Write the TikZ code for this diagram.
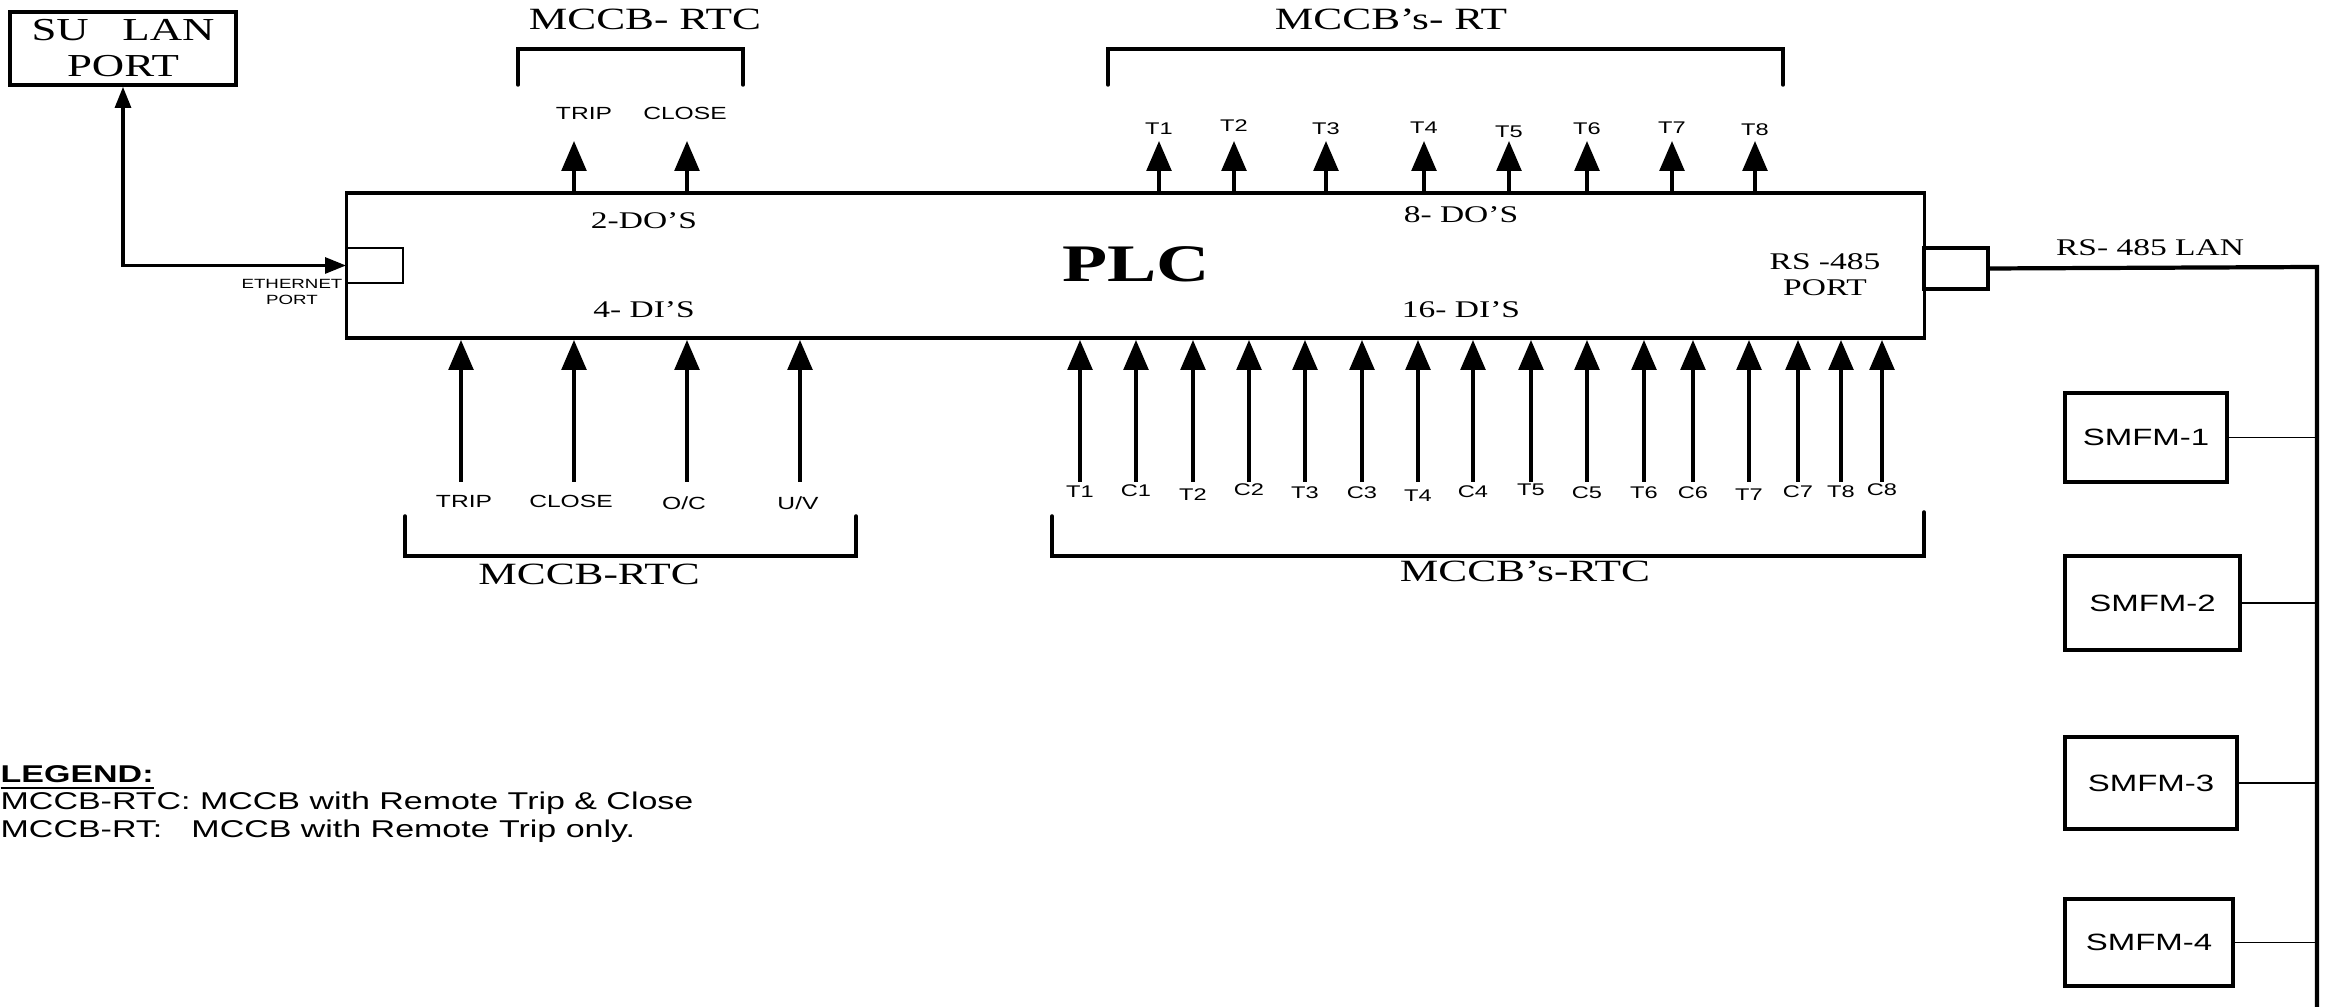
\documentclass[tikz,border=0pt]{standalone}
\usepackage{fontspec}
\setmainfont{Liberation Serif}[FakeStretch=1.4]
\newfontfamily\arialf{Liberation Sans}[FakeStretch=1.4]
\usetikzlibrary{arrows.meta,positioning}

\begin{document}
\begin{tikzpicture}[
  x=0.01cm, y=-0.01cm,
  box/.style={draw, line width=1pt, inner sep=0pt, align=center},
  sig/.style={line width=1pt, -{Triangle[length=8.5pt,width=7pt]}},
  lan/.style={line width=1pt, {Triangle[length=6pt,width=4.5pt]}-{Triangle[length=6pt,width=4.5pt]}},
  brk/.style={line width=1pt, line cap=round},
  tag/.style={font=\arialf\fontsize{4.8}{5.5}\selectfont, inner sep=0pt},
  bigtag/.style={font=\arialf\fontsize{5}{6}\selectfont, inner sep=0pt},
  title/.style={font=\fontsize{8.8}{10}\selectfont, inner sep=0pt},
  inner/.style={font=\fontsize{6.8}{7.3}\selectfont, inner sep=0pt, align=center},
  meter/.style={box, line width=1.2pt, font=\arialf\fontsize{6.7}{8}\selectfont}
]
\useasboundingbox (0,0) rectangle (2326,1007);

% main blocks
\node[box, line width=1.1pt, minimum width=15.77cm, minimum height=1.45cm] (plc) at (1135.5,265.5) {};
\node[font=\bfseries\fontsize{15}{18}\selectfont, inner sep=0pt] (plcname) at (1136,264) {PLC};
\node[box, minimum width=2.26cm, minimum height=0.73cm, font=\fontsize{9.1}{10.2}\selectfont] (sulan) at (123,48.5) {SU\ \ \ LAN\\PORT};
\node[box, line width=0.5pt, minimum width=0.56cm, minimum height=0.35cm] (ethport) at (375,265.5) {};
\node[box, minimum width=0.64cm, minimum height=0.41cm] (rsport) at (1956,268.5) {};
\node[font=\arialf\fontsize{3.8}{4.3}\selectfont, inner sep=0pt, align=center] (ethname) at (292,292) {ETHERNET\\PORT};

% texts inside the PLC
\node[inner] (do2) at (644,221) {2-DO'S};
\node[inner] (di4) at (644,310) {4- DI'S};
\node[inner] (do8) at (1461,215) {8- DO'S};
\node[inner] (di16) at (1461,310) {16- DI'S};
\node[inner] (rsname) at (1825,275) {RS -485\\PORT};

% ethernet link
\draw[lan] (sulan.south) |- (ethport.west);

% outputs to MCCB-RTC
\foreach \x/\lx/\t in {574/584/TRIP, 687/685/CLOSE} {
  \coordinate (out\t) at (\x,141);
  \draw[sig] (out\t |- plc.north) -- (out\t);
  \node[bigtag] (outlbl\t) at (\lx,113) {\t};
}
\draw[brk] (518,85) -- (518,49) -- (743,49) -- (743,85);
\node[title] (rtctop) at (645,19) {MCCB- RTC};

% outputs to MCCB's-RT
\foreach \x/\t/\y in {1159/T1/129, 1234/T2/126, 1326/T3/129, 1424/T4/128, 1509/T5/132, 1587/T6/129, 1672/T7/128, 1755/T8/130} {
  \coordinate (rt\t) at (\x,141);
  \draw[sig] (rt\t |- plc.north) -- (rt\t);
  \node[tag] (rtlbl\t) at (\x,\y) {\t};
}
\draw[brk] (1108,85) -- (1108,49) -- (1783,49) -- (1783,85);
\node[title] (rttop) at (1391,19) {MCCB's- RT};

% inputs from MCCB-RTC
\foreach \x/\lx/\t/\y in {461/464/TRIP/501, 574/571/CLOSE/501, 687/684/O\slash C/503, 800/798/U\slash V/503} {
  \coordinate (in\x) at (\x,482);
  \draw[sig] (in\x) -- (in\x |- plc.south);
  \node[bigtag] (inlbl\x) at (\lx,\y) {\t};
}
\draw[brk] (405,516) -- (405,556) -- (856,556) -- (856,516);
\node[title] (rtcbot) at (589,574) {MCCB-RTC};

% inputs from MCCB's-RTC
\foreach \x/\t/\y in {1080/T1/492, 1136/C1/491, 1193/T2/495, 1249/C2/490, 1305/T3/493, 1362/C3/493, 1418/T4/496, 1473/C4/492,
                      1531/T5/490, 1587/C5/493, 1644/T6/493, 1693/C6/493, 1749/T7/495, 1798/C7/492, 1841/T8/492, 1882/C8/490} {
  \coordinate (rtc\x) at (\x,482);
  \draw[sig] (rtc\x) -- (rtc\x |- plc.south);
  \node[tag] (rtclbl\x) at (\x,\y) {\t};
}
\draw[brk] (1052,516) -- (1052,556) -- (1924,556) -- (1924,512);
\node[title] (rtcsbot) at (1525,571) {MCCB's-RTC};

% RS-485 bus and meters
\coordinate (bustop) at (2317,267);
\coordinate (busend) at (2317,1007);
\draw[line width=1.2pt] (rsport.east) -- (bustop) -- (busend);
\node[inner] (busname) at (2150,248) {RS- 485 LAN};
\node[meter, minimum width=1.62cm, minimum height=0.89cm] (smfm1) at (2146,437.5) {SMFM-1};
\node[meter, minimum width=1.75cm, minimum height=0.94cm] (smfm2) at (2152.5,603) {SMFM-2};
\node[meter, minimum width=1.72cm, minimum height=0.92cm] (smfm3) at (2151,783) {SMFM-3};
\node[meter, minimum width=1.68cm, minimum height=0.87cm] (smfm4) at (2149,942.5) {SMFM-4};
\foreach \m in {1,2,3,4}
  \draw[line width=0.4pt] (smfm\m.east) -- (smfm\m.east -| bustop);

% legend
\node[font=\arialf\fontsize{6.9}{7.7}\selectfont, inner sep=0pt, align=left, anchor=west] (legend) at (0,804)
  {\underline{\textbf{LEGEND:}}\\
   MCCB-RTC: MCCB with Remote Trip \& Close\\
   MCCB-RT:\hspace{1.2em}MCCB with Remote Trip only.};
\end{tikzpicture}
\end{document}
